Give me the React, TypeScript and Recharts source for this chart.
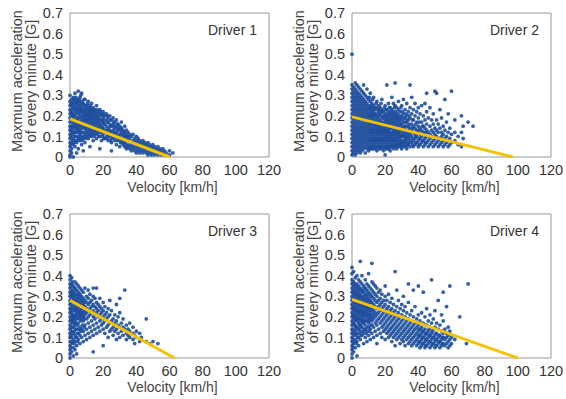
import React from 'react';
import { ScatterChart, Scatter, XAxis, YAxis, ReferenceArea } from 'recharts';

// each row: [velocity km/h, accelerations G at that velocity]
const driver1: [number, number[]][] = [
  [0, [0.0, 0.01, 0.03, 0.05, 0.07, 0.09, 0.11, 0.13, 0.15, 0.17, 0.19, 0.21, 0.23, 0.25, 0.27, 0.3]],
  [0.5, [0.06, 0.1, 0.14, 0.18, 0.22, 0.26]],
  [1, [0.02, 0.04, 0.07, 0.1, 0.12, 0.15, 0.18, 0.2, 0.22, 0.25, 0.28]],
  [1.5, [0.08, 0.13, 0.17, 0.21, 0.24, 0.27]],
  [2, [0.0, 0.06, 0.09, 0.11, 0.14, 0.16, 0.19, 0.21, 0.24, 0.26, 0.29]],
  [2.5, [0.07, 0.12, 0.15, 0.2, 0.23, 0.28]],
  [3, [0.05, 0.08, 0.12, 0.15, 0.17, 0.2, 0.23, 0.25, 0.27, 0.31]],
  [3.5, [0.1, 0.14, 0.18, 0.22, 0.26, 0.29]],
  [4, [0.02, 0.07, 0.1, 0.13, 0.16, 0.18, 0.21, 0.24, 0.26, 0.28]],
  [4.5, [0.08, 0.12, 0.15, 0.19, 0.23, 0.27]],
  [5, [0.04, 0.09, 0.12, 0.14, 0.17, 0.19, 0.22, 0.25, 0.27, 0.32]],
  [5.5, [0.1, 0.13, 0.16, 0.21, 0.24, 0.28]],
  [6, [0.08, 0.11, 0.13, 0.16, 0.2, 0.23, 0.26, 0.29]],
  [6.5, [0.09, 0.12, 0.15, 0.18, 0.22, 0.25, 0.3]],
  [7, [0.06, 0.1, 0.14, 0.17, 0.19, 0.22, 0.24, 0.27, 0.31]],
  [7.5, [0.08, 0.12, 0.16, 0.2, 0.23, 0.26]],
  [8, [0.03, 0.09, 0.12, 0.15, 0.18, 0.21, 0.23, 0.26]],
  [8.5, [0.1, 0.14, 0.17, 0.19, 0.22, 0.25, 0.28]],
  [9, [0.07, 0.11, 0.14, 0.16, 0.2, 0.22, 0.25, 0.28]],
  [9.5, [0.09, 0.12, 0.15, 0.18, 0.21, 0.24]],
  [10, [0.1, 0.13, 0.15, 0.18, 0.2, 0.23, 0.25]],
  [10.5, [0.11, 0.14, 0.17, 0.19, 0.22, 0.26]],
  [11, [0.09, 0.12, 0.16, 0.19, 0.21, 0.24, 0.27]],
  [11.5, [0.1, 0.13, 0.15, 0.18, 0.2, 0.23]],
  [12, [0.05, 0.11, 0.14, 0.17, 0.2, 0.22, 0.25]],
  [12.5, [0.12, 0.16, 0.19, 0.21, 0.24]],
  [13, [0.1, 0.13, 0.15, 0.18, 0.21, 0.23, 0.26]],
  [13.5, [0.11, 0.14, 0.17, 0.2, 0.22]],
  [14, [0.08, 0.12, 0.16, 0.19, 0.22, 0.24]],
  [14.5, [0.1, 0.13, 0.15, 0.18, 0.21, 0.23]],
  [15, [0.11, 0.14, 0.17, 0.2, 0.23]],
  [15.5, [0.12, 0.16, 0.19, 0.22]],
  [16, [0.09, 0.13, 0.15, 0.18, 0.21, 0.25]],
  [16.5, [0.11, 0.14, 0.17, 0.2, 0.23]],
  [17, [0.12, 0.14, 0.17, 0.19, 0.22]],
  [17.5, [0.1, 0.13, 0.16, 0.18, 0.21]],
  [18, [0.04, 0.1, 0.13, 0.16, 0.2, 0.23]],
  [18.5, [0.12, 0.15, 0.18, 0.22]],
  [19, [0.08, 0.12, 0.15, 0.18, 0.21]],
  [19.5, [0.1, 0.14, 0.17, 0.2]],
  [20, [0.11, 0.14, 0.17, 0.19, 0.22]],
  [20.5, [0.09, 0.12, 0.16, 0.18, 0.21]],
  [21, [0.09, 0.13, 0.16, 0.2]],
  [22, [0.1, 0.12, 0.15, 0.18, 0.21]],
  [22.5, [0.09, 0.13, 0.17, 0.2]],
  [23, [0.08, 0.11, 0.14, 0.17, 0.19]],
  [24, [0.1, 0.13, 0.16, 0.2]],
  [24.5, [0.08, 0.12, 0.15, 0.18]],
  [25, [0.03, 0.07, 0.09, 0.12, 0.15, 0.18]],
  [26, [0.1, 0.13, 0.16, 0.19]],
  [26.5, [0.09, 0.12, 0.15, 0.17]],
  [27, [0.08, 0.11, 0.14, 0.17]],
  [28, [0.06, 0.1, 0.12, 0.15, 0.18]],
  [28.5, [0.08, 0.13, 0.16]],
  [29, [0.09, 0.11, 0.14, 0.16]],
  [30, [0.05, 0.08, 0.1, 0.13, 0.15]],
  [30.5, [0.07, 0.11, 0.14]],
  [31, [0.07, 0.09, 0.12, 0.14, 0.17]],
  [32, [0.06, 0.08, 0.11, 0.13]],
  [32.5, [0.07, 0.1, 0.12]],
  [33, [0.05, 0.07, 0.1, 0.12, 0.15]],
  [34, [0.04, 0.06, 0.09, 0.11, 0.13]],
  [34.5, [0.05, 0.08, 0.1]],
  [35, [0.05, 0.08, 0.1, 0.12]],
  [36, [0.04, 0.06, 0.09, 0.11]],
  [37, [0.03, 0.05, 0.07, 0.1]],
  [38, [0.04, 0.06, 0.08, 0.11]],
  [39, [0.03, 0.05, 0.07, 0.09]],
  [40, [0.02, 0.04, 0.06, 0.08, 0.1]],
  [41, [0.03, 0.05, 0.07, 0.09]],
  [42, [0.02, 0.04, 0.06, 0.08]],
  [43, [0.03, 0.05, 0.07]],
  [44, [0.02, 0.04, 0.06, 0.08]],
  [45, [0.03, 0.05, 0.07]],
  [46, [0.02, 0.04, 0.06]],
  [47, [0.01, 0.03, 0.05, 0.07]],
  [48, [0.02, 0.04, 0.06]],
  [49, [0.01, 0.03, 0.05]],
  [50, [0.02, 0.04, 0.06]],
  [51, [0.01, 0.03, 0.05]],
  [52, [0.02, 0.04]],
  [53, [0.01, 0.03, 0.05]],
  [54, [0.02, 0.04]],
  [55, [0.01, 0.03]],
  [56, [0.02, 0.04]],
  [57, [0.01, 0.03]],
  [58, [0.02]],
  [60, [0.01, 0.03]],
  [62, [0.02]],
];

const driver2: [number, number[]][] = [
  [0, [0.01, 0.03, 0.05, 0.07, 0.09, 0.11, 0.13, 0.15, 0.17, 0.19, 0.21, 0.23, 0.25, 0.27, 0.29, 0.31, 0.33, 0.35, 0.5]],
  [1, [0.02, 0.04, 0.06, 0.08, 0.1, 0.12, 0.14, 0.16, 0.18, 0.2, 0.22, 0.24, 0.26, 0.28, 0.3, 0.32, 0.34]],
  [2, [0.01, 0.03, 0.05, 0.07, 0.09, 0.11, 0.13, 0.15, 0.17, 0.19, 0.21, 0.23, 0.25, 0.27, 0.29, 0.31, 0.33, 0.36]],
  [3, [0.02, 0.04, 0.06, 0.08, 0.1, 0.12, 0.14, 0.16, 0.18, 0.2, 0.22, 0.24, 0.26, 0.28, 0.3, 0.32, 0.35]],
  [4, [0.03, 0.05, 0.07, 0.09, 0.11, 0.13, 0.15, 0.17, 0.19, 0.21, 0.23, 0.25, 0.27, 0.29, 0.31, 0.34]],
  [5, [0.02, 0.04, 0.06, 0.08, 0.1, 0.12, 0.14, 0.16, 0.18, 0.2, 0.22, 0.24, 0.26, 0.28, 0.3, 0.33]],
  [6, [0.03, 0.05, 0.07, 0.09, 0.11, 0.13, 0.15, 0.17, 0.19, 0.21, 0.23, 0.25, 0.27, 0.29, 0.32]],
  [7, [0.04, 0.06, 0.08, 0.1, 0.12, 0.14, 0.16, 0.18, 0.2, 0.22, 0.24, 0.26, 0.28, 0.31, 0.35]],
  [8, [0.02, 0.05, 0.07, 0.09, 0.11, 0.13, 0.15, 0.17, 0.19, 0.21, 0.23, 0.25, 0.27, 0.3]],
  [9, [0.04, 0.06, 0.08, 0.1, 0.12, 0.14, 0.16, 0.18, 0.2, 0.22, 0.24, 0.26, 0.29, 0.33]],
  [10, [0.03, 0.05, 0.07, 0.09, 0.11, 0.13, 0.15, 0.17, 0.19, 0.21, 0.23, 0.25, 0.28]],
  [10.5, [0.04, 0.08, 0.12, 0.16, 0.2, 0.24, 0.29]],
  [11, [0.04, 0.06, 0.08, 0.1, 0.12, 0.14, 0.16, 0.18, 0.2, 0.22, 0.24, 0.27, 0.31]],
  [11.5, [0.05, 0.09, 0.13, 0.17, 0.21, 0.25]],
  [12, [0.05, 0.07, 0.09, 0.11, 0.13, 0.15, 0.17, 0.19, 0.21, 0.23, 0.26]],
  [12.5, [0.04, 0.08, 0.12, 0.16, 0.2, 0.24, 0.28]],
  [13, [0.04, 0.06, 0.08, 0.1, 0.12, 0.14, 0.16, 0.18, 0.2, 0.22, 0.25, 0.29]],
  [13.5, [0.05, 0.09, 0.13, 0.17, 0.21, 0.23]],
  [14, [0.05, 0.07, 0.09, 0.11, 0.13, 0.15, 0.17, 0.19, 0.21, 0.24]],
  [14.5, [0.04, 0.08, 0.12, 0.16, 0.2, 0.26]],
  [15, [0.03, 0.06, 0.08, 0.1, 0.12, 0.14, 0.16, 0.18, 0.2, 0.23, 0.27]],
  [15.5, [0.05, 0.09, 0.13, 0.17, 0.21, 0.24]],
  [16, [0.05, 0.07, 0.09, 0.11, 0.13, 0.15, 0.17, 0.19, 0.22, 0.25]],
  [16.5, [0.04, 0.08, 0.12, 0.16, 0.2, 0.23]],
  [17, [0.04, 0.06, 0.08, 0.1, 0.12, 0.14, 0.16, 0.18, 0.21, 0.24]],
  [17.5, [0.05, 0.09, 0.13, 0.17, 0.22, 0.26]],
  [18, [0.05, 0.07, 0.09, 0.11, 0.13, 0.15, 0.17, 0.2, 0.23, 0.28]],
  [18.5, [0.04, 0.08, 0.12, 0.16, 0.19, 0.22]],
  [19, [0.03, 0.06, 0.08, 0.1, 0.12, 0.14, 0.16, 0.19, 0.22]],
  [19.5, [0.05, 0.09, 0.13, 0.17, 0.2, 0.24]],
  [20, [0.01, 0.05, 0.07, 0.09, 0.11, 0.13, 0.15, 0.18, 0.21, 0.25]],
  [20.5, [0.04, 0.08, 0.12, 0.16, 0.19, 0.23]],
  [21, [0.04, 0.06, 0.08, 0.1, 0.12, 0.14, 0.17, 0.2, 0.23, 0.35]],
  [21.5, [0.05, 0.09, 0.13, 0.15, 0.18, 0.21]],
  [22, [0.05, 0.07, 0.09, 0.11, 0.13, 0.16, 0.19, 0.22, 0.26]],
  [22.5, [0.04, 0.08, 0.12, 0.14, 0.17, 0.2, 0.24]],
  [23, [0.03, 0.06, 0.08, 0.1, 0.12, 0.15, 0.18, 0.21, 0.24]],
  [23.5, [0.05, 0.09, 0.11, 0.14, 0.16, 0.19, 0.22]],
  [24, [0.05, 0.07, 0.09, 0.11, 0.14, 0.17, 0.2, 0.23, 0.29]],
  [24.5, [0.06, 0.08, 0.12, 0.15, 0.18, 0.21]],
  [25, [0.04, 0.06, 0.08, 0.1, 0.13, 0.16, 0.19, 0.22, 0.26]],
  [25.5, [0.05, 0.09, 0.11, 0.14, 0.17, 0.2, 0.24]],
  [26, [0.05, 0.07, 0.09, 0.12, 0.15, 0.18, 0.21, 0.25, 0.36]],
  [26.5, [0.06, 0.08, 0.1, 0.13, 0.16, 0.19, 0.22]],
  [27, [0.04, 0.06, 0.08, 0.11, 0.14, 0.17, 0.2, 0.24]],
  [27.5, [0.05, 0.09, 0.12, 0.15, 0.18, 0.21]],
  [28, [0.05, 0.07, 0.1, 0.13, 0.16, 0.19, 0.23, 0.27]],
  [28.5, [0.06, 0.08, 0.11, 0.14, 0.17, 0.2]],
  [29, [0.06, 0.09, 0.12, 0.15, 0.18, 0.22]],
  [29.5, [0.05, 0.07, 0.1, 0.13, 0.16, 0.19, 0.24]],
  [30, [0.04, 0.07, 0.1, 0.13, 0.16, 0.2, 0.25]],
  [30.5, [0.06, 0.08, 0.11, 0.14, 0.18, 0.22]],
  [31, [0.05, 0.08, 0.11, 0.14, 0.17, 0.21, 0.28]],
  [31.5, [0.07, 0.1, 0.12, 0.15, 0.19]],
  [32, [0.06, 0.09, 0.12, 0.15, 0.19, 0.23]],
  [32.5, [0.05, 0.08, 0.1, 0.13, 0.17, 0.21]],
  [33, [0.04, 0.07, 0.1, 0.13, 0.17, 0.2, 0.26]],
  [33.5, [0.06, 0.09, 0.11, 0.15, 0.18]],
  [34, [0.06, 0.09, 0.12, 0.15, 0.18, 0.22]],
  [34.5, [0.07, 0.1, 0.13, 0.16, 0.2]],
  [35, [0.05, 0.08, 0.11, 0.14, 0.19, 0.24, 0.35]],
  [36, [0.07, 0.1, 0.13, 0.16, 0.21, 0.29]],
  [36.5, [0.06, 0.09, 0.12, 0.14, 0.18]],
  [37, [0.05, 0.08, 0.12, 0.15, 0.18, 0.23]],
  [38, [0.06, 0.09, 0.11, 0.14, 0.2, 0.26]],
  [38.5, [0.07, 0.1, 0.12, 0.16]],
  [39, [0.07, 0.1, 0.13, 0.17, 0.22]],
  [40, [0.05, 0.08, 0.12, 0.15, 0.19, 0.24]],
  [40.5, [0.06, 0.09, 0.13, 0.17]],
  [41, [0.06, 0.09, 0.11, 0.14, 0.21]],
  [42, [0.07, 0.1, 0.13, 0.17, 0.25]],
  [42.5, [0.08, 0.11, 0.15]],
  [43, [0.05, 0.08, 0.12, 0.15, 0.2]],
  [44, [0.06, 0.09, 0.14, 0.18, 0.26]],
  [44.5, [0.07, 0.1, 0.12]],
  [45, [0.07, 0.1, 0.13, 0.16, 0.22, 0.31]],
  [46, [0.05, 0.08, 0.12, 0.19]],
  [47, [0.06, 0.09, 0.11, 0.15, 0.24]],
  [48, [0.07, 0.1, 0.13, 0.18]],
  [49, [0.05, 0.08, 0.12, 0.16, 0.21]],
  [50, [0.06, 0.09, 0.11, 0.14, 0.32]],
  [51, [0.07, 0.1, 0.13, 0.18, 0.31]],
  [52, [0.05, 0.08, 0.12, 0.16]],
  [53, [0.06, 0.09, 0.14, 0.23]],
  [54, [0.07, 0.1, 0.12, 0.19]],
  [55, [0.05, 0.08, 0.11, 0.15]],
  [56, [0.06, 0.09, 0.13, 0.28]],
  [57, [0.07, 0.1, 0.17]],
  [58, [0.05, 0.08, 0.12, 0.21]],
  [59, [0.06, 0.09, 0.14]],
  [60, [0.07, 0.11, 0.32]],
  [62, [0.08, 0.12, 0.18]],
  [64, [0.06, 0.1]],
  [66, [0.05, 0.12, 0.2]],
  [67, [0.09, 0.15]],
  [70, [0.17]],
  [73, [0.15]],
];

const driver3: [number, number[]][] = [
  [0, [0.0, 0.02, 0.04, 0.06, 0.08, 0.1, 0.12, 0.14, 0.16, 0.18, 0.2, 0.22, 0.24, 0.26, 0.28, 0.3, 0.32, 0.34, 0.36, 0.38, 0.4]],
  [0.5, [0.05, 0.11, 0.15, 0.19, 0.23, 0.27, 0.31, 0.35]],
  [1, [0.03, 0.07, 0.1, 0.13, 0.17, 0.2, 0.22, 0.25, 0.27, 0.29, 0.31, 0.33, 0.36, 0.39]],
  [1.5, [0.08, 0.15, 0.18, 0.21, 0.24, 0.28, 0.32, 0.37]],
  [2, [0.01, 0.05, 0.09, 0.12, 0.15, 0.19, 0.21, 0.24, 0.26, 0.28, 0.3, 0.32, 0.35]],
  [2.5, [0.07, 0.13, 0.17, 0.2, 0.23, 0.27, 0.3, 0.34]],
  [3, [0.04, 0.08, 0.11, 0.16, 0.18, 0.2, 0.23, 0.25, 0.27, 0.29, 0.31, 0.34, 0.37]],
  [3.5, [0.1, 0.14, 0.17, 0.21, 0.24, 0.28, 0.33]],
  [4, [0.02, 0.06, 0.1, 0.14, 0.19, 0.22, 0.24, 0.26, 0.28, 0.3, 0.33, 0.36]],
  [4.5, [0.08, 0.12, 0.16, 0.2, 0.23, 0.27, 0.31]],
  [5, [0.09, 0.12, 0.17, 0.21, 0.23, 0.25, 0.27, 0.29, 0.32, 0.35]],
  [5.5, [0.14, 0.19, 0.22, 0.26, 0.3]],
  [6, [0.07, 0.11, 0.15, 0.2, 0.22, 0.24, 0.26, 0.28, 0.31, 0.34]],
  [6.5, [0.13, 0.18, 0.21, 0.25, 0.29]],
  [7, [0.1, 0.14, 0.19, 0.21, 0.23, 0.25, 0.27, 0.3, 0.33]],
  [7.5, [0.16, 0.2, 0.22, 0.26, 0.28]],
  [8, [0.08, 0.13, 0.18, 0.2, 0.24, 0.26, 0.29, 0.32]],
  [8.5, [0.15, 0.19, 0.22, 0.25, 0.27]],
  [9, [0.11, 0.16, 0.21, 0.23, 0.25, 0.28, 0.34]],
  [10, [0.09, 0.14, 0.19, 0.22, 0.24, 0.27, 0.3]],
  [11, [0.12, 0.17, 0.2, 0.23, 0.26, 0.29, 0.33]],
  [12, [0.1, 0.15, 0.21, 0.24, 0.27, 0.31]],
  [13, [0.13, 0.18, 0.22, 0.25, 0.28]],
  [14, [0.03, 0.11, 0.16, 0.2, 0.23, 0.26, 0.3, 0.34]],
  [15, [0.14, 0.19, 0.21, 0.25, 0.29]],
  [16, [0.12, 0.17, 0.22, 0.24, 0.27, 0.34]],
  [17, [0.15, 0.2, 0.23, 0.26]],
  [18, [0.13, 0.18, 0.21, 0.25, 0.29]],
  [19, [0.16, 0.19, 0.22, 0.24]],
  [20, [0.06, 0.14, 0.17, 0.2, 0.23, 0.27]],
  [21, [0.12, 0.18, 0.21, 0.25]],
  [22, [0.15, 0.19, 0.22]],
  [23, [0.1, 0.16, 0.2, 0.24]],
  [24, [0.13, 0.17, 0.21, 0.28]],
  [25, [0.14, 0.18, 0.23]],
  [26, [0.11, 0.15, 0.19]],
  [27, [0.13, 0.17, 0.21]],
  [28, [0.09, 0.14, 0.18, 0.26]],
  [29, [0.12, 0.16, 0.2]],
  [30, [0.1, 0.15, 0.22, 0.29]],
  [31, [0.13, 0.17]],
  [32, [0.11, 0.15, 0.19]],
  [33, [0.14, 0.33]],
  [34, [0.09, 0.12, 0.16]],
  [35, [0.11, 0.14]],
  [36, [0.1, 0.13, 0.17]],
  [38, [0.09, 0.12, 0.15]],
  [39, [0.07, 0.11]],
  [40, [0.1, 0.13]],
  [42, [0.08, 0.12]],
  [43, [0.1]],
  [46, [0.08, 0.19]],
  [48, [0.07]],
  [50, [0.08]],
  [53, [0.07]],
];

const driver4: [number, number[]][] = [
  [0, [0.0, 0.02, 0.04, 0.06, 0.08, 0.1, 0.12, 0.14, 0.16, 0.18, 0.2, 0.22, 0.24, 0.26, 0.28, 0.3, 0.32, 0.34, 0.36, 0.38, 0.41, 0.44]],
  [0.5, [0.05, 0.09, 0.13, 0.17, 0.21, 0.25, 0.29, 0.33, 0.37]],
  [1, [0.03, 0.07, 0.11, 0.14, 0.17, 0.19, 0.21, 0.23, 0.25, 0.27, 0.29, 0.31, 0.33, 0.35, 0.37, 0.42]],
  [1.5, [0.08, 0.12, 0.16, 0.2, 0.24, 0.28, 0.32, 0.36]],
  [2, [0.05, 0.09, 0.13, 0.16, 0.18, 0.2, 0.22, 0.24, 0.26, 0.28, 0.3, 0.32, 0.34, 0.39]],
  [2.5, [0.07, 0.11, 0.15, 0.19, 0.23, 0.27, 0.31, 0.35]],
  [3, [0.01, 0.08, 0.12, 0.15, 0.19, 0.21, 0.23, 0.25, 0.27, 0.29, 0.31, 0.33, 0.36, 0.4]],
  [3.5, [0.1, 0.14, 0.18, 0.22, 0.26, 0.3, 0.34]],
  [4, [0.06, 0.1, 0.14, 0.17, 0.2, 0.22, 0.24, 0.26, 0.28, 0.3, 0.32, 0.35, 0.38]],
  [4.5, [0.12, 0.16, 0.19, 0.23, 0.27, 0.3, 0.33]],
  [5, [0.09, 0.13, 0.16, 0.19, 0.21, 0.23, 0.25, 0.27, 0.29, 0.31, 0.34, 0.37, 0.47]],
  [5.5, [0.11, 0.15, 0.18, 0.22, 0.26, 0.3, 0.33]],
  [6, [0.11, 0.15, 0.18, 0.2, 0.22, 0.24, 0.26, 0.28, 0.3, 0.33, 0.36, 0.4]],
  [6.5, [0.13, 0.17, 0.21, 0.25, 0.29, 0.32]],
  [7, [0.07, 0.12, 0.17, 0.19, 0.21, 0.23, 0.25, 0.27, 0.29, 0.32, 0.35]],
  [7.5, [0.14, 0.18, 0.22, 0.26, 0.3, 0.34]],
  [8, [0.1, 0.14, 0.16, 0.2, 0.22, 0.24, 0.26, 0.28, 0.31, 0.34, 0.38]],
  [8.5, [0.12, 0.18, 0.21, 0.25, 0.29, 0.33]],
  [9, [0.08, 0.13, 0.18, 0.21, 0.23, 0.25, 0.27, 0.3, 0.33, 0.36]],
  [9.5, [0.15, 0.19, 0.24, 0.28, 0.31]],
  [10, [0.11, 0.15, 0.17, 0.2, 0.22, 0.24, 0.26, 0.29, 0.32, 0.35, 0.41]],
  [10.5, [0.13, 0.18, 0.21, 0.25, 0.28]],
  [11, [0.09, 0.14, 0.19, 0.21, 0.23, 0.25, 0.28, 0.31, 0.34]],
  [11.5, [0.16, 0.2, 0.24, 0.27, 0.3]],
  [12, [0.12, 0.16, 0.18, 0.2, 0.22, 0.24, 0.27, 0.3, 0.33, 0.37, 0.46]],
  [13, [0.1, 0.15, 0.19, 0.21, 0.23, 0.26, 0.29, 0.32, 0.36]],
  [14, [0.13, 0.17, 0.2, 0.22, 0.25, 0.28, 0.31, 0.35]],
  [15, [0.07, 0.11, 0.16, 0.18, 0.21, 0.24, 0.27, 0.3, 0.34]],
  [16, [0.14, 0.19, 0.22, 0.25, 0.28, 0.32]],
  [17, [0.12, 0.17, 0.2, 0.23, 0.26, 0.29, 0.33]],
  [18, [0.1, 0.15, 0.18, 0.21, 0.24, 0.27, 0.31]],
  [19, [0.13, 0.16, 0.19, 0.22, 0.25, 0.28]],
  [20, [0.09, 0.14, 0.17, 0.2, 0.23, 0.26, 0.3, 0.35]],
  [21, [0.12, 0.15, 0.18, 0.21, 0.24, 0.28]],
  [22, [0.1, 0.13, 0.16, 0.19, 0.22, 0.25, 0.31]],
  [23, [0.11, 0.14, 0.17, 0.2, 0.23, 0.27]],
  [24, [0.08, 0.12, 0.15, 0.18, 0.21, 0.24, 0.29]],
  [25, [0.1, 0.13, 0.16, 0.19, 0.22, 0.26]],
  [26, [0.06, 0.11, 0.14, 0.17, 0.2, 0.23, 0.42]],
  [27, [0.09, 0.12, 0.15, 0.18, 0.21, 0.25, 0.33]],
  [28, [0.1, 0.13, 0.16, 0.19, 0.22, 0.28]],
  [29, [0.07, 0.11, 0.14, 0.17, 0.2, 0.24]],
  [30, [0.09, 0.12, 0.15, 0.18, 0.21, 0.26]],
  [31, [0.08, 0.1, 0.13, 0.16, 0.19, 0.23, 0.3]],
  [32, [0.06, 0.11, 0.14, 0.17, 0.2, 0.25]],
  [33, [0.09, 0.12, 0.15, 0.18, 0.22]],
  [34, [0.07, 0.1, 0.13, 0.16, 0.19, 0.27, 0.36]],
  [35, [0.08, 0.11, 0.14, 0.17, 0.21]],
  [36, [0.06, 0.09, 0.12, 0.15, 0.18, 0.23]],
  [37, [0.07, 0.1, 0.13, 0.16, 0.2, 0.33]],
  [38, [0.08, 0.11, 0.14, 0.17, 0.25]],
  [39, [0.06, 0.09, 0.12, 0.15, 0.19]],
  [40, [0.07, 0.1, 0.13, 0.16, 0.21, 0.35]],
  [40.5, [0.08, 0.11, 0.14]],
  [41, [0.05, 0.08, 0.11, 0.14, 0.18]],
  [42, [0.06, 0.09, 0.12, 0.15, 0.22]],
  [42.5, [0.07, 0.1, 0.13]],
  [43, [0.07, 0.1, 0.13, 0.17, 0.32]],
  [44, [0.05, 0.08, 0.11, 0.14, 0.2]],
  [44.5, [0.06, 0.09, 0.12, 0.16]],
  [45, [0.06, 0.09, 0.12, 0.16, 0.24]],
  [46, [0.07, 0.1, 0.13, 0.18]],
  [46.5, [0.08, 0.11, 0.14]],
  [47, [0.05, 0.08, 0.11, 0.15, 0.21]],
  [48, [0.06, 0.09, 0.12, 0.17, 0.38]],
  [48.5, [0.07, 0.1, 0.13]],
  [49, [0.07, 0.1, 0.14, 0.19]],
  [50, [0.05, 0.08, 0.11, 0.15, 0.23]],
  [50.5, [0.06, 0.09, 0.12]],
  [51, [0.06, 0.09, 0.12, 0.17]],
  [52, [0.07, 0.1, 0.14, 0.28]],
  [52.5, [0.08, 0.11]],
  [53, [0.05, 0.08, 0.11, 0.16]],
  [54, [0.06, 0.09, 0.13, 0.21]],
  [54.5, [0.07, 0.1]],
  [55, [0.07, 0.1, 0.12, 0.18, 0.32]],
  [56, [0.06, 0.09, 0.14]],
  [57, [0.07, 0.1, 0.12, 0.25]],
  [58, [0.05, 0.08, 0.11, 0.15]],
  [59, [0.06, 0.09, 0.13, 0.35]],
  [60, [0.07, 0.1]],
  [62, [0.09]],
  [65, [0.2]],
  [69, [0.07]],
  [70, [0.36]],
];

// regression lines, start and end
const fit1 = [{ v: 0, g: 0.185 }, { v: 60, g: 0 }];
const fit2 = [{ v: 0, g: 0.195 }, { v: 97, g: 0 }];
const fit3 = [{ v: 0, g: 0.28 }, { v: 63, g: 0 }];
const fit4 = [{ v: 0, g: 0.285 }, { v: 100, g: 0 }];

const xTicks = [0, 20, 40, 60, 80, 100, 120];
const yTicks = [0, 0.1, 0.2, 0.3, 0.4, 0.5, 0.6, 0.7];

const FONT = 'Arial, "Liberation Sans", sans-serif';
const DOT = '#1f4f9e';
const LINE = '#f5c200';

const flatten = (rows: [number, number[]][]) =>
  rows.flatMap(([v, gs]) => gs.map((g) => ({ v, g })));

function YTitle(props: any) {
  const { viewBox } = props;
  const cy = viewBox.y + viewBox.height / 2 - 4;
  return (
    <g fontFamily={FONT} fontSize={14.5} fill="#444" textAnchor="middle">
      <text x={17} y={cy} transform={`rotate(-90 17 ${cy})`} dy={5}>Maxmum acceleration</text>
      <text x={31} y={cy} transform={`rotate(-90 31 ${cy})`} dy={5}>of every minute [G]</text>
    </g>
  );
}

function XTitle(props: any) {
  const { viewBox } = props;
  return (
    <text x={viewBox.x + viewBox.width / 2 + 3} y={192} textAnchor="middle" fontFamily={FONT} fontSize={14} fill="#444">
      Velocity [km/h]
    </text>
  );
}

function Panel({ rows, fit, name, top }: { rows: [number, number[]][]; fit: { v: number; g: number }[]; name: string; top: number }) {
  const pts = flatten(rows);
  return (
    <ScatterChart width={283} height={200} margin={{ top, right: 14, bottom: 0, left: 0 }}>
      <XAxis
        type="number"
        dataKey="v"
        domain={[0, 120]}
        ticks={xTicks}
        interval={0}
        height={43 + (13 - top)}
        axisLine={false}
        tickLine={false}
        tickMargin={2}
        tick={{ fontSize: 14.5, fill: '#333', fontFamily: FONT }}
        label={{ content: XTitle }}
      />
      <YAxis
        type="number"
        dataKey="g"
        domain={[0, 0.7]}
        ticks={yTicks}
        interval={0}
        width={70}
        axisLine={false}
        tickLine={false}
        tickMargin={1}
        tickFormatter={(t: number) => (t === 0 ? '0' : t.toFixed(1))}
        tick={{ fontSize: 14.5, fill: '#333', fontFamily: FONT }}
        label={{ content: YTitle }}
      />
      <ReferenceArea
        x1={0}
        x2={120}
        y1={0}
        y2={0.7}
        fill="none"
        stroke="#999"
        strokeWidth={1}
        label={{ value: name, position: 'insideTopRight', offset: 12, fontSize: 14, fill: '#333', fontFamily: FONT }}
      />
      <Scatter
        data={pts}
        isAnimationActive={false}
        shape={(p: any) => <circle cx={p.cx} cy={p.cy} r={1.9} fill={DOT} fillOpacity={0.9} />}
      />
      <Scatter
        data={fit}
        isAnimationActive={false}
        line={{ stroke: LINE, strokeWidth: 3 }}
        shape={() => <g />}
      />
    </ScatterChart>
  );
}

export default function App() {
  return (
    <div style={{ position: 'fixed', left: 0, top: 0, width: 566, height: 399, background: '#fff', fontFamily: FONT, overflow: 'hidden' }}>
      <div style={{ position: 'absolute', left: 0, top: 0 }}>
        <Panel rows={driver1} fit={fit1} name="Driver 1" top={13} />
      </div>
      <div style={{ position: 'absolute', left: 282, top: 0 }}>
        <Panel rows={driver2} fit={fit2} name="Driver 2" top={13} />
      </div>
      <div style={{ position: 'absolute', left: 0, top: 200 }}>
        <Panel rows={driver3} fit={fit3} name="Driver 3" top={14} />
      </div>
      <div style={{ position: 'absolute', left: 282, top: 200 }}>
        <Panel rows={driver4} fit={fit4} name="Driver 4" top={14} />
      </div>
    </div>
  );
}
